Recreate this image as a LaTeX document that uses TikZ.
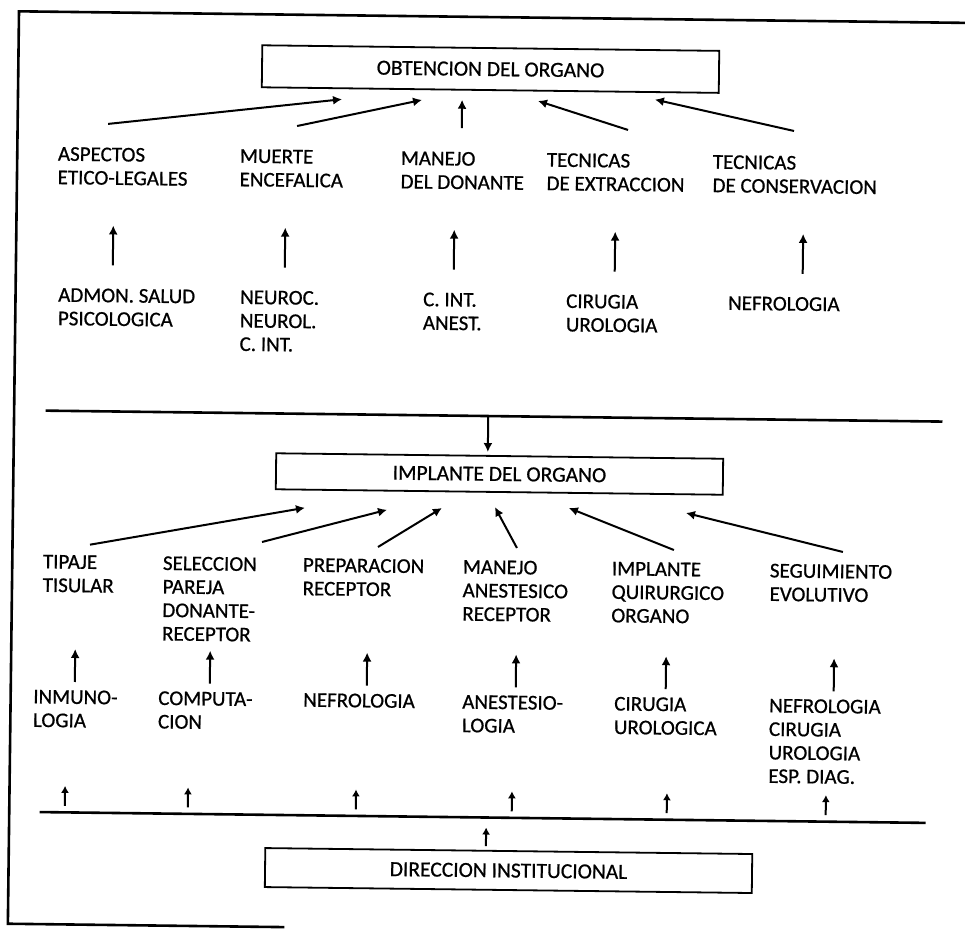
\documentclass[tikz,border=0pt]{standalone}
\usepackage{fontspec}
\setmainfont{Carlito}
\newfontfamily\lblfont{Carlito}[FakeBold=0.7]
\usetikzlibrary{arrows.meta}
\begin{document}
\begin{tikzpicture}[x=1pt,y=-1pt,
  lbl/.style={anchor=north west, inner sep=0pt, align=left, font=\lblfont\fontsize{21}{23.5}\selectfont, transform shape},
  boxnode/.style={draw, line width=1.8pt, inner sep=0pt, font=\lblfont\fontsize{21.5}{23.5}\selectfont, transform shape},
  arr/.style={line width=2pt, -{Latex[length=9pt,width=9pt]}},
  sarr/.style={line width=2pt, -{Latex[length=7pt,width=8pt]}},
  rule/.style={line width=2.6pt},
  frame/.style={line width=2.6pt},
  ]
\useasboundingbox (0,0) rectangle (965,928);
\clip (0,0) rectangle (965,928);
\begin{scope}[rotate around={-0.7:(482.5,464)}]
% frame
\draw[frame] (290,929.5) -- (13.5,929.5) -- (13.5,17) -- (985,17);

% top box
\node[boxnode, minimum width=457pt, minimum height=42pt] (obt) at (485.7,69) {OBTENCION DEL ORGANO};

% row 1 labels
\node[lbl] (a1) at (54,152) {ASPECTOS\\ETICO-LEGALES};
\node[lbl] (a2) at (236,152) {MUERTE\\ENCEFALICA};
\node[lbl] (a3) at (397,152) {MANEJO\\DEL DONANTE};
\node[lbl] (a4) at (543,152) {TECNICAS\\DE EXTRACCION};
\node[lbl] (a5) at (709,152) {TECNICAS\\DE CONSERVACION};

% arrows to top box
\coordinate (t1s) at (104,128.5); \coordinate (t1e) at (337.6,101);
\coordinate (t2s) at (293,128.3); \coordinate (t2e) at (417.6,100.7);
\coordinate (t3s) at (457.7,128.3); \coordinate (t3e) at (457.7,100);
\coordinate (t4s) at (624,128.2); \coordinate (t4e) at (533.6,100.3);
\coordinate (t5s) at (790,127.2); \coordinate (t5e) at (650.5,97.5);
\foreach \i in {1,...,5} \draw[arr] (t\i s) -- (t\i e);

% row 1b labels
\node[lbl] (b1) at (56,293) {ADMON. SALUD\\PSICOLOGICA};
\node[lbl] (b2) at (238,293) {NEUROC.\\NEUROL.\\C. INT.};
\node[lbl] (b3) at (421,293) {C. INT.\\ANEST.};
\node[lbl] (b4) at (564,293) {CIRUGIA\\UROLOGIA};
\node[lbl] (b5) at (726,293) {NEFROLOGIA};

% row 1 vertical arrows
\foreach \i/\x in {1/110.4,2/282.4,3/451.4,4/612.4,5/800.4}{
  \coordinate (u\i s) at (\x,270); \coordinate (u\i e) at (\x,230);
  \draw[arr] (u\i s) -- (u\i e);
}

% middle rule and arrow
\coordinate (m1) at (45,416); \coordinate (m2) at (942,416);
\draw[rule] (m1) -- (m2);
\coordinate (ms) at (487.7,416); \coordinate (me) at (487.7,452);
\draw[arr] (ms) -- (me);

% implant box
\node[boxnode, minimum width=447pt, minimum height=36pt] (imp) at (499.6,473.8) {IMPLANTE DEL ORGANO};

% arrows to implant box
\coordinate (r1s) at (91,549.5); \coordinate (r1e) at (305.5,510);
\coordinate (r2s) at (263,544.7); \coordinate (r2e) at (387.6,511);
\coordinate (r3s) at (379,548.3); \coordinate (r3e) at (442.5,508.5);
\coordinate (r4s) at (518,547.6); \coordinate (r4e) at (495.5,507);
\coordinate (r5s) at (675,547.7); \coordinate (r5e) at (569.5,507);
\coordinate (r6s) at (844,547.6); \coordinate (r6e) at (686.6,510.5);
\foreach \i in {1,...,6} \draw[arr] (r\i s) -- (r\i e);

% row 2 labels
\node[lbl] (c1) at (44,560) {TIPAJE\\TISULAR};
\node[lbl] (c2) at (164,560) {SELECCION\\PAREJA\\DONANTE-\\RECEPTOR};
\node[lbl] (c3) at (304,560) {PREPARACION\\RECEPTOR};
\node[lbl] (c4) at (464,560) {MANEJO\\ANESTESICO\\RECEPTOR};
\node[lbl] (c5) at (613,560) {IMPLANTE\\QUIRURGICO\\ORGANO};
\node[lbl] (c6) at (771,560) {SEGUIMIENTO\\EVOLUTIVO};

% row 2 vertical arrows
\foreach \i/\x in {1/77.5,2/212.5,3/369.5,4/518.5,5/668.5,6/836.5}{
  \coordinate (v\i s) at (\x,687); \coordinate (v\i e) at (\x,654);
  \draw[arr] (v\i s) -- (v\i e);
}

% row 2b labels
\node[lbl] (d1) at (36,695) {INMUNO-\\LOGIA};
\node[lbl] (d2) at (161,695) {COMPUTA-\\CION};
\node[lbl] (d3) at (306,695) {NEFROLOGIA};
\node[lbl] (d4) at (465,695) {ANESTESIO-\\LOGIA};
\node[lbl] (d5) at (617,695) {CIRUGIA\\UROLOGICA};
\node[lbl] (d6) at (772,695) {NEFROLOGIA\\CIRUGIA\\UROLOGIA\\ESP. DIAG.};

% bottom short arrows
\foreach \i/\x in {1/69,2/192,3/360,4/516,5/671,6/830}{
  \coordinate (w\i s) at (\x,811); \coordinate (w\i e) at (\x,791);
  \draw[sarr] (w\i s) -- (w\i e);
}

% bottom rule
\coordinate (n1) at (44,817.5); \coordinate (n2) at (930,817.5);
\draw[rule] (n1) -- (n2);

% direction box
\node[boxnode, minimum width=487pt, minimum height=39pt] (dir) at (513.5,870.2) {DIRECCION INSTITUCIONAL};
\coordinate (ds) at (490.6,846); \coordinate (de) at (490.6,827.5);
\draw[sarr] (ds) -- (de);
\end{scope}
\end{tikzpicture}
\end{document}
